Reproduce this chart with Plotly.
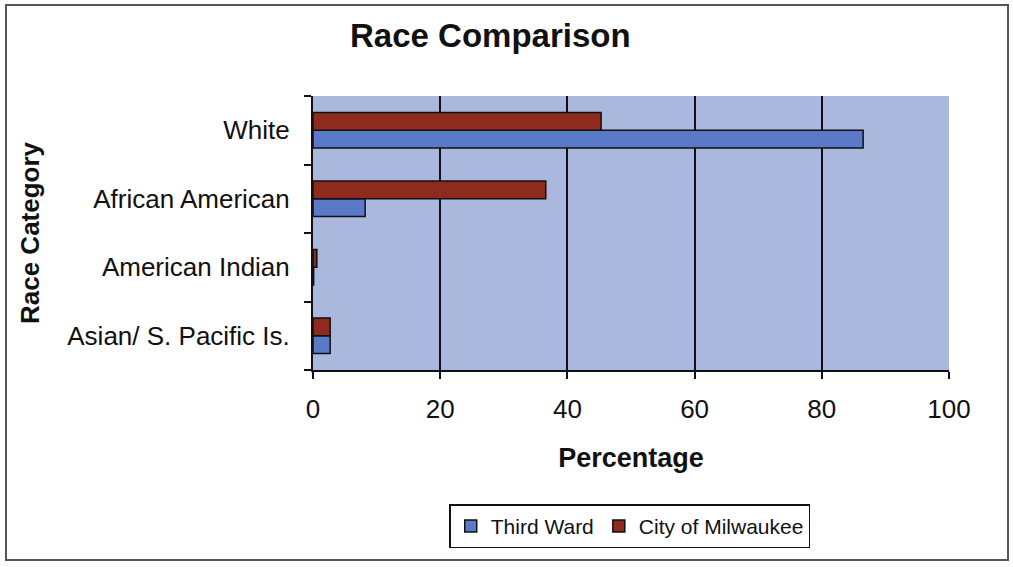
import plotly.graph_objects as go

# Race categories (bottom to top, as plotly draws them)
categories = ['Asian/ S. Pacific Is.', 'American Indian', 'African American', 'White']
third_ward = [2.7, 0.1, 8.2, 86.5]
city_milwaukee = [2.7, 0.6, 36.6, 45.3]
x_ticks = [0, 20, 40, 60, 80, 100]

font_family = 'Liberation Sans, Arial, sans-serif'

fig = go.Figure()
fig.add_trace(go.Bar(
    y=categories, x=third_ward, name='Third Ward', orientation='h',
    marker=dict(color='#5b79c9', line=dict(color='#111111', width=1.5))
))
fig.add_trace(go.Bar(
    y=categories, x=city_milwaukee, name='City of Milwaukee', orientation='h',
    marker=dict(color='#8e2a1e', line=dict(color='#111111', width=1.5))
))

fig.update_layout(
    width=1013, height=567,
    margin=dict(l=313, r=64, t=96, b=197),
    paper_bgcolor='white',
    plot_bgcolor='#abb8de',
    barmode='group',
    bargap=0.48,
    bargroupgap=0,
    font=dict(family=font_family, color='#111111', size=26),
    title=dict(text='<b>Race Comparison</b>', x=0.484, xanchor='center',
               y=0.938, yanchor='middle', font=dict(size=33, color='#111111')),
    legend=dict(orientation='h', x=0.498, xanchor='center', y=-0.49, yanchor='top',
                bordercolor='#111111', borderwidth=1.5, font=dict(size=21),
                traceorder='normal'),
    showlegend=True,
    # outer frame around the whole chart
    shapes=[dict(type='rect', xref='paper', yref='paper',
                 x0=-0.4827, x1=1.0928, y0=-0.693, y1=1.332,
                 line=dict(color='#555555', width=2))]
)

fig.update_xaxes(
    range=[0, 100], tickvals=x_ticks, showgrid=True, gridcolor='#111111', gridwidth=2,
    zeroline=False, showline=True, linecolor='#111111', linewidth=2,
    ticks='outside', ticklen=7, tickcolor='#111111', tickwidth=2,
    ticklabelstandoff=8,
    title=dict(text='<b>Percentage</b>', font=dict(size=27), standoff=25),
    tickfont=dict(size=26)
)
fig.update_yaxes(
    showgrid=False, showline=True, linecolor='#111111', linewidth=2,
    ticks='outside', tickson='boundaries', ticklen=7, tickcolor='#111111', tickwidth=2,
    ticklabelstandoff=16,
    title=dict(text='<b>Race Category</b>', font=dict(size=26), standoff=20),
    tickfont=dict(size=26)
)

# drop the default page margin so the figure fills the window
fig.write_html('out.html', config={'displayModeBar': False},
               post_script="document.body.style.margin='0';")
